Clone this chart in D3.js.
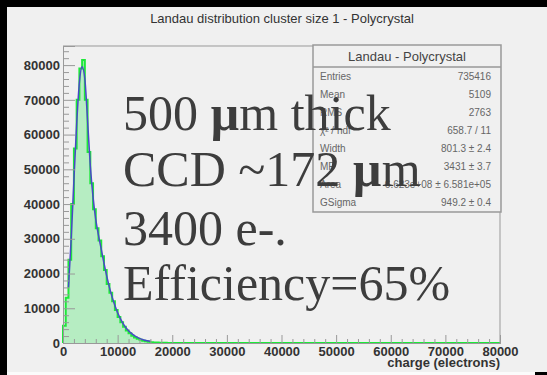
<!DOCTYPE html>
<html>
<head>
<meta charset="utf-8">
<script src="https://cdn.jsdelivr.net/npm/d3@7"></script>
<style>
  body { margin: 0; background: #000; }
  svg { display: block; }
</style>
</head>
<body>
<svg id="chart" width="547" height="375"></svg>
<script>
/* global d3 */
'use strict';

// histogram: 500 e- bins starting at 0
const binWidth = 500;
const binCounts = [
    5000, 13000, 24000, 40000, 56000, 70000, 79000, 81500,
    70000, 55000, 46000, 38500, 33000, 29500, 25000, 21000,
    17000, 14500, 12000, 9500, 7500, 6000, 4700, 3600,
    2800, 2100, 1600, 1200, 900, 650, 480, 350,
    250, 180, 130, 90, 65, 45, 30, 20
];

// landau (x) gauss fit
const fitCharge = [1000, 1500, 2000, 2500, 3000, 3500, 4000, 4500, 5000, 5500, 6000, 6500,
    7000, 7500, 8000, 8500, 9000, 9500, 10000, 11000, 12000, 13000, 14000, 15000, 16000];
const fitValues = [16000, 30000, 47000, 63000, 75000, 79500, 76000, 64000, 51000, 42000, 35500, 31000,
    27000, 23000, 19300, 16000, 13200, 10800, 8700, 5600, 3500, 2200, 1350, 800, 480];

const xTicks = [0, 10000, 20000, 30000, 40000, 50000, 60000, 70000, 80000];
const yTicks = [0, 10000, 20000, 30000, 40000, 50000, 60000, 70000, 80000];
const minorStep = 2000;

const chartTitle = 'Landau distribution cluster size 1 - Polycrystal';
const xTitle = 'charge (electrons)';
const statTitle = 'Landau - Polycrystal';
const statLabels = ['Entries', 'Mean', 'RMS', '\u03c7\u00b2 / ndf', 'Width', 'MP', 'Area', 'GSigma'];
const statValues = ['735416', '5109', '2763', '658.7 / 11', '801.3 \u00b1 2.4', '3431 \u00b1 3.7',
    '6.623e+08 \u00b1 6.581e+05', '949.2 \u00b1 0.4'];

const svg = d3.select('#chart');

// pad
svg.append('rect').attr('x', 7).attr('y', 7).attr('width', 540).attr('height', 365).attr('fill', '#f0f0f0');
svg.append('rect').attr('x', 7).attr('y', 372).attr('width', 528).attr('height', 3).attr('fill', '#fbfbfb');

const frame = {left: 63, right: 500, top: 46, bottom: 343};

const x = d3.scaleLinear().domain([0, 80000]).range([frame.left, frame.right]);
const y = d3.scaleLinear().domain([0, 85500]).range([frame.bottom, frame.top]);

svg.append('text')
    .attr('x', 282).attr('y', 23)
    .attr('text-anchor', 'middle')
    .attr('font-family', 'Liberation Sans, Arial, sans-serif')
    .attr('font-size', 13)
    .attr('fill', '#333')
    .text(chartTitle);

//
// histogram
//
const steps = binCounts.map((c, i) => ({q: i * binWidth, v: c}));
steps.push({q: binCounts.length * binWidth, v: 0});
steps.push({q: x.domain()[1], v: 0});

const area = d3.area()
    .curve(d3.curveStepAfter)
    .x(d => x(d.q))
    .y0(y(0))
    .y1(d => y(d.v));

const line = d3.line()
    .curve(d3.curveStepAfter)
    .x(d => x(d.q))
    .y(d => y(d.v));

svg.append('path').datum(steps).attr('d', area).attr('fill', '#b6edc2');
svg.append('path').datum([{q: 0, v: 0}].concat(steps)).attr('d', line)
    .attr('fill', 'none').attr('stroke', '#1ee83a').attr('stroke-width', 2);

const fitLine = d3.line()
    .curve(d3.curveMonotoneX)
    .x(d => x(d[0]))
    .y(d => y(d[1]));
svg.append('path').datum(d3.zip(fitCharge, fitValues)).attr('d', fitLine)
    .attr('fill', 'none').attr('stroke', '#4a48c8').attr('stroke-width', 1.5);

//
// axes (ticks pointing inwards, ROOT style)
//
const tickFont = 'Liberation Sans, Arial, sans-serif';
const minorX = d3.range(0, 80001, minorStep).filter(v => v % 10000 !== 0);
const minorY = d3.range(0, 85001, minorStep).filter(v => v % 10000 !== 0);

const gx = svg.append('g').attr('transform', 'translate(0,' + frame.bottom + ')');
gx.call(d3.axisBottom(x).tickValues(xTicks).tickSize(-8).tickPadding(4).tickFormat(d3.format('d')));
gx.append('g').call(d3.axisBottom(x).tickValues(minorX).tickSize(-4).tickFormat(''));

const gy = svg.append('g').attr('transform', 'translate(' + frame.left + ',0)');
gy.call(d3.axisLeft(y).tickValues(yTicks).tickSize(-12).tickPadding(3).tickFormat(d3.format('d')));
gy.append('g').call(d3.axisLeft(y).tickValues(minorY).tickSize(-6).tickFormat(''));

svg.selectAll('.domain').attr('stroke', '#999');
svg.selectAll('.tick line').attr('stroke', '#999');
svg.selectAll('.tick text')
    .attr('font-family', tickFont)
    .attr('font-size', 13)
    .attr('font-weight', 'bold')
    .attr('fill', '#333');

// frame top / right
svg.append('path')
    .attr('d', `M${frame.left},${frame.top}H${frame.right}V${frame.bottom}`)
    .attr('fill', 'none').attr('stroke', '#999');

svg.append('text')
    .attr('x', frame.right).attr('y', 367)
    .attr('text-anchor', 'end')
    .attr('font-family', tickFont)
    .attr('font-size', 13)
    .attr('font-weight', 'bold')
    .attr('fill', '#333')
    .text(xTitle);

//
// stats box
//
const stats = svg.append('g');
stats.append('rect')
    .attr('x', 313).attr('y', 45).attr('width', 188).attr('height', 167)
    .attr('fill', '#f0f0f0').attr('stroke', '#999').attr('stroke-width', 1.5);
stats.append('line')
    .attr('x1', 313).attr('x2', 501).attr('y1', 67).attr('y2', 67)
    .attr('stroke', '#999').attr('stroke-width', 1.5);
stats.append('text')
    .attr('x', 407).attr('y', 61)
    .attr('text-anchor', 'middle')
    .attr('font-family', tickFont).attr('font-size', 13).attr('fill', '#444')
    .text(statTitle);
stats.selectAll('.slabel').data(statLabels).join('text')
    .attr('class', 'slabel')
    .attr('x', 320).attr('y', (d, i) => 80 + i * 18)
    .attr('font-family', tickFont).attr('font-size', 10).attr('fill', '#666')
    .text(d => d);
stats.selectAll('.svalue').data(statValues).join('text')
    .attr('class', 'svalue')
    .attr('x', 491).attr('y', (d, i) => 80 + i * 18)
    .attr('text-anchor', 'end')
    .attr('font-family', tickFont).attr('font-size', 10).attr('fill', '#666')
    .text(d => d);

//
// overlay note
//
const note = svg.append('g')
    .attr('font-family', 'Liberation Serif, serif')
    .attr('font-size', 50)
    .attr('fill', '#3d3d3d');

const l1 = note.append('text').attr('x', 123).attr('y', 130);
l1.append('tspan').text('500 ');
l1.append('tspan').attr('font-weight', 'bold').text('\u00b5');
l1.append('tspan').text('m thick');

const l2 = note.append('text').attr('x', 123).attr('y', 186);
l2.append('tspan').text('CCD ~172 ');
l2.append('tspan').attr('font-weight', 'bold').text('\u00b5');
l2.append('tspan').text('m');

note.append('text').attr('x', 123).attr('y', 245).text('3400 e-.');
note.append('text').attr('x', 123).attr('y', 300).text('Efficiency=65%');
</script>
</body>
</html>
